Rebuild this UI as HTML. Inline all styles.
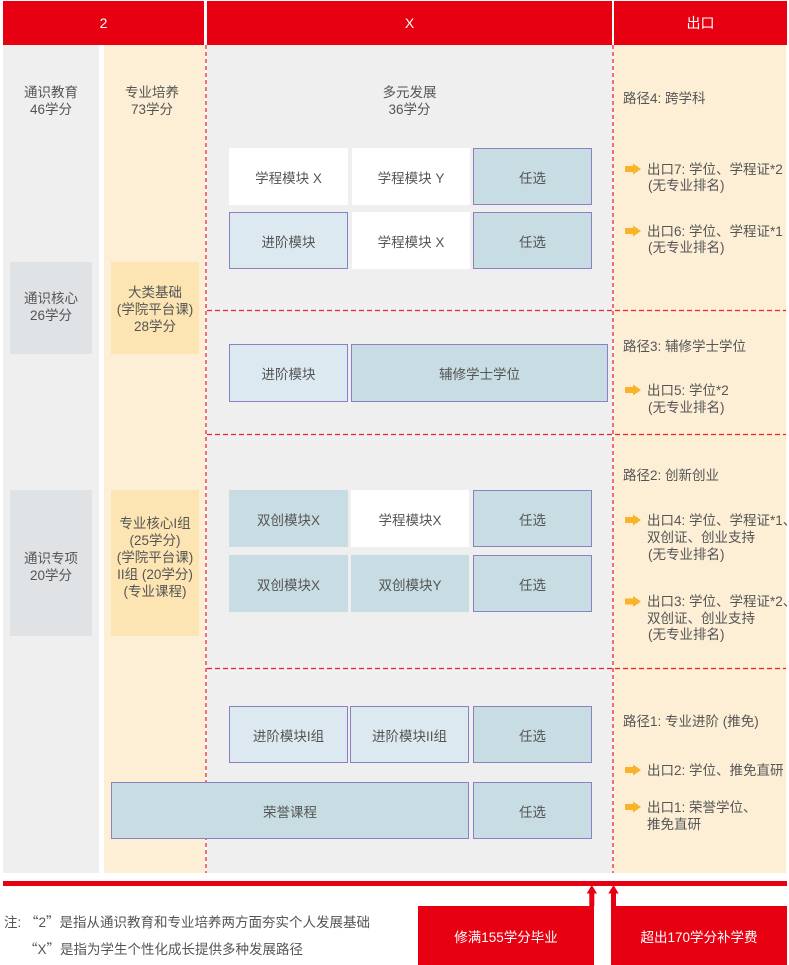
<!DOCTYPE html>
<html><head><meta charset="utf-8">
<style>
html,body{margin:0;padding:0;background:#fff;}
body{width:789px;height:965px;position:relative;overflow:hidden;font-family:"Liberation Sans","Noto Sans CJK SC",sans-serif;}
.a{position:absolute;}
.t{position:absolute;font-size:13.5px;line-height:17px;color:#555;white-space:nowrap;}
.c{text-align:center;transform:translateX(-50%);}
.b{position:absolute;display:flex;align-items:center;justify-content:center;text-align:center;font-size:13.5px;color:#555;box-sizing:border-box;white-space:nowrap;}
.w{background:#fff;}
.tl{background:#c7dde3;}
.lb{background:#dde9f1;}
.bd{border:1.5px solid #8a80c2;}
.h{position:absolute;background:#e60012;color:#fff;font-size:14px;display:flex;align-items:center;justify-content:center;}
</style></head>
<body>
<!-- header -->
<div class="h" style="left:3px;top:1px;width:201px;height:44px;">2</div>
<div class="h" style="left:207px;top:1px;width:405px;height:44px;">X</div>
<div class="h" style="left:614px;top:1px;width:173px;height:44px;">出口</div>

<!-- column backgrounds -->
<div class="a" style="left:3px;top:45px;width:96px;height:828px;background:#efefef;"></div>
<div class="a" style="left:104px;top:45px;width:101px;height:828px;background:#fdefd6;"></div>
<div class="a" style="left:207px;top:45px;width:405px;height:828px;background:#efefef;"></div>
<div class="a" style="left:614px;top:45px;width:172px;height:828px;background:#fdefd6;"></div>

<!-- col1 / col2 inner boxes -->
<div class="a" style="left:10px;top:262px;width:82px;height:92px;background:#dfe3e6;"></div>
<div class="a" style="left:10px;top:490px;width:82px;height:146px;background:#dfe3e6;"></div>
<div class="a" style="left:111px;top:262px;width:88px;height:92px;background:#fce4b3;"></div>
<div class="a" style="left:111px;top:490px;width:88px;height:146px;background:#fce4b3;"></div>

<!-- dashed lines -->
<svg class="a" style="left:0;top:0;" width="789" height="965">
<g stroke="#e8202a" stroke-width="1.3" fill="none">
<line x1="206" y1="45" x2="206" y2="873" stroke-dasharray="4,3"/>
<line x1="613" y1="45" x2="613" y2="873" stroke-dasharray="4,3"/>
<line x1="207" y1="310.5" x2="786" y2="310.5" stroke-dasharray="5,3"/>
<line x1="207" y1="434.5" x2="786" y2="434.5" stroke-dasharray="5,3"/>
<line x1="207" y1="668.5" x2="786" y2="668.5" stroke-dasharray="5,3"/>
</g>
</svg>

<!-- col texts -->
<div class="t c" style="left:51px;top:83.5px;text-align:center;">通识教育<br>46学分</div>
<div class="t c" style="left:152px;top:83.5px;">专业培养<br>73学分</div>
<div class="t c" style="left:409.5px;top:83.5px;">多元发展<br>36学分</div>
<div class="t c" style="left:51px;top:289.5px;">通识核心<br>26学分</div>
<div class="t c" style="left:155px;top:283.5px;">大类基础<br>(学院平台课)<br>28学分</div>
<div class="t c" style="left:51px;top:549.5px;">通识专项<br>20学分</div>
<div class="t c" style="left:155px;top:514.5px;">专业核心I组<br>(25学分)<br>(学院平台课)<br>II组 (20学分)<br>(专业课程)</div>

<!-- section 1 -->
<div class="b w" style="left:229px;top:148px;width:119px;height:57px;">学程模块 X</div>
<div class="b w" style="left:352px;top:148px;width:118px;height:57px;">学程模块 Y</div>
<div class="b tl bd" style="left:473px;top:148px;width:119px;height:57px;">任选</div>
<div class="b lb bd" style="left:229px;top:212px;width:119px;height:57px;">进阶模块</div>
<div class="b w" style="left:352px;top:212px;width:118px;height:57px;">学程模块 X</div>
<div class="b tl bd" style="left:473px;top:212px;width:119px;height:57px;">任选</div>

<!-- section 2 -->
<div class="b lb bd" style="left:229px;top:344px;width:119px;height:58px;">进阶模块</div>
<div class="b tl bd" style="left:351px;top:344px;width:257px;height:58px;">辅修学士学位</div>

<!-- section 3 -->
<div class="b tl" style="left:229px;top:490px;width:119px;height:57px;">双创模块X</div>
<div class="b w" style="left:351px;top:490px;width:118px;height:57px;">学程模块X</div>
<div class="b tl bd" style="left:473px;top:490px;width:119px;height:57px;">任选</div>
<div class="b tl" style="left:229px;top:555px;width:119px;height:57px;">双创模块X</div>
<div class="b tl" style="left:351px;top:555px;width:118px;height:57px;">双创模块Y</div>
<div class="b tl bd" style="left:473px;top:555px;width:119px;height:57px;">任选</div>

<!-- section 4 -->
<div class="b lb bd" style="left:229px;top:706px;width:119px;height:57px;">进阶模块I组</div>
<div class="b lb bd" style="left:350px;top:706px;width:119px;height:57px;">进阶模块II组</div>
<div class="b tl bd" style="left:473px;top:706px;width:119px;height:57px;">任选</div>
<div class="b tl bd" style="left:111px;top:782px;width:358px;height:57px;">荣誉课程</div>
<div class="b tl bd" style="left:473px;top:782px;width:119px;height:57px;">任选</div>

<!-- right column arrows -->
<svg class="a" style="left:0;top:0;" width="789" height="965">
<g fill="#f9b32b">
<polygon points="625,166 633,166 633,163.5 641,169 633,174.5 633,172 625,172"/>
<polygon points="625,228 633,228 633,225.5 641,231 633,236.5 633,234 625,234"/>
<polygon points="625,387 633,387 633,384.5 641,390 633,395.5 633,393 625,393"/>
<polygon points="625,517 633,517 633,514.5 641,520 633,525.5 633,523 625,523"/>
<polygon points="625,598.5 633,598.5 633,596 641,601.5 633,607 633,604.5 625,604.5"/>
<polygon points="625,767 633,767 633,764.5 641,770 633,775.5 633,773 625,773"/>
<polygon points="625,804 633,804 633,801.5 641,807 633,812.5 633,810 625,810"/>
</g>
</svg>

<!-- right column text -->
<div class="t" style="left:623px;top:89.5px;">路径4: 跨学科</div>
<div class="t" style="left:647px;top:160.5px;">出口7: 学位、学程证*2</div>
<div class="t" style="left:648px;top:176.5px;">(无专业排名)</div>
<div class="t" style="left:647px;top:222.5px;">出口6: 学位、学程证*1</div>
<div class="t" style="left:648px;top:238.5px;">(无专业排名)</div>

<div class="t" style="left:623px;top:337.5px;">路径3: 辅修学士学位</div>
<div class="t" style="left:647px;top:381.5px;">出口5: 学位*2</div>
<div class="t" style="left:648px;top:398.5px;">(无专业排名)</div>

<div class="t" style="left:623px;top:466.5px;">路径2: 创新创业</div>
<div class="t" style="left:647px;top:511.5px;">出口4: 学位、学程证*1、</div>
<div class="t" style="left:647px;top:528.5px;">双创证、创业支持</div>
<div class="t" style="left:648px;top:545.5px;">(无专业排名)</div>
<div class="t" style="left:647px;top:593px;">出口3: 学位、学程证*2、</div>
<div class="t" style="left:647px;top:609.5px;">双创证、创业支持</div>
<div class="t" style="left:648px;top:625.5px;">(无专业排名)</div>

<div class="t" style="left:623px;top:713px;">路径1: 专业进阶 (推免)</div>
<div class="t" style="left:647px;top:761.5px;">出口2: 学位、推免直研</div>
<div class="t" style="left:647px;top:798.5px;">出口1: 荣誉学位、</div>
<div class="t" style="left:647px;top:816px;">推免直研</div>

<!-- bottom red bar and arrows -->
<div class="a" style="left:3px;top:881px;width:784px;height:5px;background:#e60012;"></div>
<svg class="a" style="left:0;top:0;" width="789" height="965">
<g fill="#e60012">
<polygon points="591.8,885 597,893.5 594.3,893.5 594.3,906 589.3,906 589.3,893.5 586.7,893.5"/>
<polygon points="613.5,885 618.7,893.5 616,893.5 616,906 611,906 611,893.5 608.3,893.5"/>
</g>
</svg>
<div class="b" style="left:418px;top:906px;width:176px;height:59px;background:#e60012;color:#fff;">修满155学分毕业</div>
<div class="b" style="left:611px;top:906px;width:176px;height:59px;background:#e60012;color:#fff;">超出170学分补学费</div>

<!-- notes -->
<div class="t" style="left:4px;top:912.5px;">注: <span style="font-family:'Noto Sans CJK SC',sans-serif;">“</span>2<span style="font-family:'Noto Sans CJK SC',sans-serif;">”</span>是指从通识教育和专业培养两方面夯实个人发展基础</div>
<div class="t" style="left:24px;top:939.5px;"><span style="font-family:'Noto Sans CJK SC',sans-serif;">“</span>X<span style="font-family:'Noto Sans CJK SC',sans-serif;">”</span>是指为学生个性化成长提供多种发展路径</div>
</body></html>
